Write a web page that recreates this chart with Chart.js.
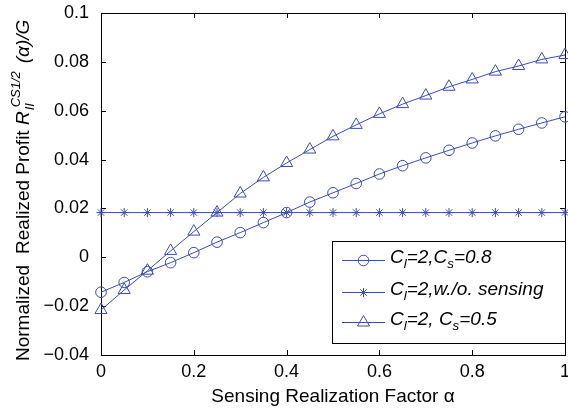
<!DOCTYPE html>
<html>
<head>
<meta charset="utf-8">
<script src="https://cdn.jsdelivr.net/npm/chart.js@4/dist/chart.umd.min.js"></script>
<style>
  html, body { margin: 0; padding: 0; background: #fff; }
  #contenedor { width: 568px; height: 411px; }
</style>
</head>
<body>
<div id="contenedor"><canvas id="grafica" width="568" height="411"></canvas></div>
<script>
const ALFA = [0, 0.05, 0.1, 0.15, 0.2, 0.25, 0.3, 0.35, 0.4, 0.45, 0.5,
  0.55, 0.6, 0.65, 0.7, 0.75, 0.8, 0.85, 0.9, 0.95, 1];
const PROFIT_CS08 = [-0.0143, -0.0103, -0.0059, -0.0022, 0.0019, 0.0062, 0.0101, 0.0142, 0.0183, 0.0226, 0.0264,
  0.0302, 0.0341, 0.0375, 0.0407, 0.0438, 0.0468, 0.0497, 0.0524, 0.0550, 0.0575];
const PROFIT_SIN_SENSADO = [0.0183, 0.0183, 0.0183, 0.0183, 0.0183, 0.0183, 0.0183, 0.0183, 0.0183, 0.0183, 0.0183,
  0.0183, 0.0183, 0.0183, 0.0183, 0.0183, 0.0183, 0.0183, 0.0183, 0.0183, 0.0183];
const PROFIT_CS05 = [-0.0216, -0.0134, -0.0055, 0.0026, 0.0105, 0.0183, 0.0261, 0.0327, 0.0386, 0.0441, 0.0495,
  0.0542, 0.0587, 0.0627, 0.0662, 0.0698, 0.0728, 0.0760, 0.0783, 0.0810, 0.0828];

const X_TICKS = [0, 0.2, 0.4, 0.6, 0.8, 1];
const X_ETIQUETAS = ["0", "0.2", "0.4", "0.6", "0.8", "1"];
const Y_TICKS = [-0.04, -0.02, 0, 0.02, 0.04, 0.06, 0.08, 0.1];
const Y_ETIQUETAS = ["\u22120.04", "\u22120.02", "0", "0.02", "0.04", "0.06", "0.08", "0.1"];

// textos de la leyenda, con sus subindices
const LEYENDA = [
  [{ t: "C" }, { t: "l", sub: true }, { t: "=2,C" }, { t: "s", sub: true }, { t: "=0.8" }],
  [{ t: "C" }, { t: "l", sub: true }, { t: "=2,w./o. sensing" }],
  [{ t: "C" }, { t: "l", sub: true }, { t: "=2, C" }, { t: "s", sub: true }, { t: "=0.5" }],
];

const AZUL = "#3a4db5";
const FUENTE = "'Liberation Sans', Arial, Helvetica, sans-serif";

function fuente(tam, italica) {
  return (italica ? "italic " : "") + tam + "px " + FUENTE;
}

// dibuja partes de texto seguidas, con subindices; devuelve el ancho
function dibujarPartes(ctx, partes, x, y, tam) {
  let cursor = x;
  partes.forEach((p) => {
    const t = p.sub ? tam * 0.7 : tam;
    ctx.font = fuente(t, true);
    const dy = p.sub ? tam * 0.32 : 0;
    ctx.fillText(p.t, cursor, y + dy);
    cursor += ctx.measureText(p.t).width;
  });
  return cursor - x;
}

const marcoYTicks = {
  id: "marcoYTicks",
  beforeDatasetsDraw(chart) {
    const { ctx, chartArea: a, scales } = chart;
    const largo = 5;
    ctx.save();
    ctx.strokeStyle = "#000";
    ctx.lineWidth = 1;
    ctx.beginPath();
    X_TICKS.forEach((v) => {
      const px = Math.round(scales.x.getPixelForValue(v)) + 0.5;
      ctx.moveTo(px, a.bottom); ctx.lineTo(px, a.bottom - largo);
      ctx.moveTo(px, a.top); ctx.lineTo(px, a.top + largo);
    });
    Y_TICKS.forEach((v) => {
      const py = Math.round(scales.y.getPixelForValue(v)) + 0.5;
      ctx.moveTo(a.left, py); ctx.lineTo(a.left + largo, py);
      ctx.moveTo(a.right, py); ctx.lineTo(a.right - largo, py);
    });
    ctx.stroke();
    ctx.strokeRect(Math.round(a.left) + 0.5, Math.round(a.top) + 0.5,
      Math.round(a.right - a.left), Math.round(a.bottom - a.top));
    ctx.restore();
  },
};

const tituloY = {
  id: "tituloY",
  afterDraw(chart) {
    const { ctx } = chart;
    const tam = 19;
    ctx.save();
    ctx.translate(29, 361);
    ctx.rotate(-Math.PI / 2);
    ctx.fillStyle = "#000";
    ctx.textBaseline = "alphabetic";
    ctx.textAlign = "left";
    let u = 0;
    ctx.font = fuente(tam, false);
    ctx.fillText("Normalized", u, 0);
    u += ctx.measureText("Normalized").width + 11;
    ctx.fillText("Realized Profit ", u, 0);
    u += ctx.measureText("Realized Profit ").width;
    ctx.font = fuente(tam, true);
    ctx.fillText("R", u, 0);
    u += ctx.measureText("R").width + 1;
    ctx.font = fuente(13, true);
    ctx.fillText("II", u, 5);
    const anchoSub = ctx.measureText("II").width;
    ctx.fillText("CS1/2", u + 3, -9);
    const anchoSup = ctx.measureText("CS1/2").width + 3;
    u += Math.max(anchoSub, anchoSup) + 8;
    ctx.font = fuente(tam, true);
    ctx.fillText("(\u03b1)/G", u, 0);
    ctx.restore();
  },
};

const leyenda = {
  id: "leyendaPropia",
  afterDraw(chart) {
    const { ctx, chartArea: a } = chart;
    const caja = { x: 332.5, y: 241.5, w: Math.round(a.right) - 332, h: 102 };
    ctx.save();
    ctx.fillStyle = "#fff";
    ctx.fillRect(caja.x, caja.y, caja.w, caja.h);
    ctx.strokeStyle = "#000";
    ctx.lineWidth = 1;
    ctx.strokeRect(caja.x, caja.y, caja.w, caja.h);
    const filas = [260, 292, 322];
    chart.data.datasets.forEach((ds, i) => {
      const y = filas[i];
      ctx.strokeStyle = ds.borderColor;
      ctx.lineWidth = 1;
      ctx.beginPath();
      ctx.moveTo(342, y + 0.5);
      ctx.lineTo(385, y + 0.5);
      ctx.stroke();
      ctx.fillStyle = "rgba(0,0,0,0)";
      Chart.helpers.drawPoint(ctx, {
        pointStyle: ds.pointStyle, radius: ds.pointRadius, borderWidth: 1, rotation: 0,
      }, 363.5, y + 0.5);
      ctx.fillStyle = "#000";
      ctx.textBaseline = "middle";
      dibujarPartes(ctx, LEYENDA[i], 390, y - 2, 19);
    });
    ctx.restore();
  },
};

function serie(etiqueta, valores, estilo, radio) {
  return {
    label: etiqueta,
    data: ALFA.map((a, i) => ({ x: a, y: valores[i] })),
    borderColor: AZUL,
    borderWidth: 1,
    pointStyle: estilo,
    pointRadius: radio,
    pointBorderColor: AZUL,
    pointBackgroundColor: "rgba(0,0,0,0)",
    pointBorderWidth: 1,
    tension: 0,
    fill: false,
    clip: false,
  };
}

new Chart(document.getElementById("grafica"), {
  type: "line",
  data: {
    datasets: [
      serie("Cl=2,Cs=0.8", PROFIT_CS08, "circle", 5.3),
      serie("Cl=2,w./o. sensing", PROFIT_SIN_SENSADO, "star", 4.5),
      serie("Cl=2, Cs=0.5", PROFIT_CS05, "triangle", 7),
    ],
  },
  options: {
    responsive: false,
    animation: false,
    devicePixelRatio: 1,
    layout: { autoPadding: false, padding: { top: 13, right: 3, left: 0, bottom: 0 } },
    plugins: { legend: { display: false }, tooltip: { enabled: false } },
    scales: {
      x: {
        type: "linear",
        min: 0,
        max: 1,
        afterBuildTicks(s) { s.ticks = X_TICKS.map((v) => ({ value: v })); },
        afterFit(s) { s.height = 56; s.paddingLeft = 0; s.paddingRight = 0; },
        grid: { display: false, drawTicks: false },
        border: { display: false },
        ticks: {
          padding: 6,
          color: "#000",
          font: { family: FUENTE, size: 18 },
          callback: (v, i) => X_ETIQUETAS[i],
          maxRotation: 0,
        },
        title: {
          display: true,
          text: "Sensing Realization Factor \u03b1",
          color: "#000",
          font: { family: FUENTE, size: 19 },
          padding: { top: 0, bottom: 3 },
        },
      },
      y: {
        type: "linear",
        min: -0.04,
        max: 0.1,
        afterBuildTicks(s) { s.ticks = Y_TICKS.map((v) => ({ value: v })); },
        afterFit(s) { s.width = 101; s.paddingTop = 0; s.paddingBottom = 0; },
        grid: { display: false, drawTicks: false },
        border: { display: false },
        ticks: {
          padding: 12,
          color: "#000",
          font: { family: FUENTE, size: 18 },
          callback: (v, i) => Y_ETIQUETAS[i],
        },
      },
    },
  },
  plugins: [marcoYTicks, tituloY, leyenda],
});
</script>
</body>
</html>
